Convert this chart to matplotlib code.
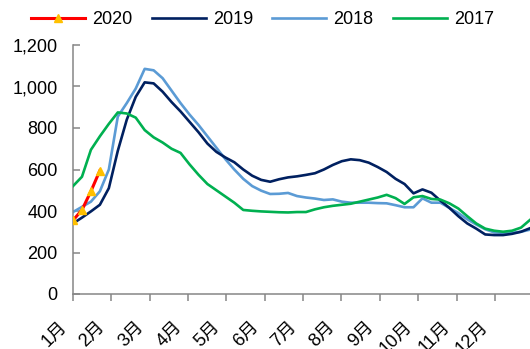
import numpy as np
import matplotlib
matplotlib.use("Agg")
import matplotlib.pyplot as plt
from matplotlib.ticker import FuncFormatter
from matplotlib.transforms import ScaledTranslation

plt.rcParams['font.family'] = ['Liberation Sans', 'Noto Sans CJK SC']

# weekly values, one per week of the year
y2020 = [355, 405, 495, 595]
y2019 = [340, 368, 398, 430, 510, 690, 840, 950, 1020, 1015,
         975, 925, 880, 830, 780, 725, 685, 658, 635, 600,
         570, 550, 541, 553, 562, 567, 574, 582, 600, 622,
         640, 649, 645, 633, 612, 588, 555, 530, 485, 504,
         488, 450, 415, 375, 340, 315, 287, 284, 284, 290,
         300, 317]
y2018 = [395, 420, 445, 495, 600, 855, 920, 990, 1085, 1078,
         1040, 980, 920, 865, 815, 760, 705, 650, 600, 555,
         520, 498, 482, 483, 487, 472, 465, 460, 453, 456,
         445, 440, 440, 440, 438, 437, 428, 418, 418, 461,
         440, 440, 415, 390, 360, 335, 312, 297, 295, 295,
         300, 310]
y2017 = [520, 565, 695, 760, 820, 875, 870, 850, 790, 755,
         730, 700, 680, 625, 575, 530, 500, 470, 440, 405,
         401, 398, 396, 394, 393, 395, 395, 408, 418, 425,
         430, 435, 445, 455, 465, 478, 462, 434, 466, 472,
         458, 455, 437, 412, 375, 340, 315, 305, 300, 305,
         320, 357]

months = ['1月', '2月', '3月', '4月', '5月', '6月',
          '7月', '8月', '9月', '10月', '11月', '12月']
weeks_per_month = 4.28


def main():
    fig = plt.figure(figsize=(5.30, 3.49), dpi=100)
    ax = fig.add_axes([73 / 530, 55 / 349, 457 / 530, 249 / 349])

    ax.plot(np.arange(len(y2019)), y2019, color='#002060', lw=1.9, label='2019', zorder=3)
    ax.plot(np.arange(len(y2018)), y2018, color='#5B9BD5', lw=1.9, label='2018', zorder=2)
    ax.plot(np.arange(len(y2017)), y2017, color='#00B050', lw=1.9, label='2017', zorder=4)
    ax.plot(np.arange(len(y2020)), y2020, color='#FF0000', lw=2.2, label='2020',
            marker='^', markersize=6, markerfacecolor='#FFC000',
            markeredgecolor='#FFC000', zorder=5)

    ax.set_xlim(0, 51)
    ax.set_ylim(0, 1200)
    ax.set_yticks(range(0, 1201, 200))
    ax.yaxis.set_major_formatter(FuncFormatter(lambda v, p: '{:,}'.format(int(v))))
    ax.set_xticks(np.arange(12) * weeks_per_month)
    ax.set_xticklabels(months, rotation=45, ha='right', va='center',
                       rotation_mode='anchor')

    for side in ['top', 'right']:
        ax.spines[side].set_visible(False)
    for side in ['left', 'bottom']:
        ax.spines[side].set_color('#868686')
        ax.spines[side].set_linewidth(1.1)
        ax.spines[side].set_clip_on(False)

    ax.tick_params(axis='y', direction='in', length=5, width=1.1, color='#868686',
                   labelsize=13, pad=11)
    ax.tick_params(axis='x', direction='out', length=5, width=1.1, color='#868686',
                   labelsize=13, pad=17)
    shift = ScaledTranslation(-9 / 100, 0, fig.dpi_scale_trans)
    for lab in ax.get_xticklabels():
        lab.set_transform(lab.get_transform() + shift)

    handles, labels = ax.get_legend_handles_labels()
    order = [3, 0, 1, 2]
    ax.legend([handles[i] for i in order], [labels[i] for i in order],
              loc='center left', bbox_to_anchor=(31 / 530, 1 - 20 / 349),
              bbox_transform=fig.transFigure, ncol=4, frameon=False,
              fontsize=13, handlelength=3.0, handletextpad=0.4,
              columnspacing=1.05, borderpad=0, borderaxespad=0)

    fig.savefig('out.png', dpi=100)


if __name__ == '__main__':
    main()
